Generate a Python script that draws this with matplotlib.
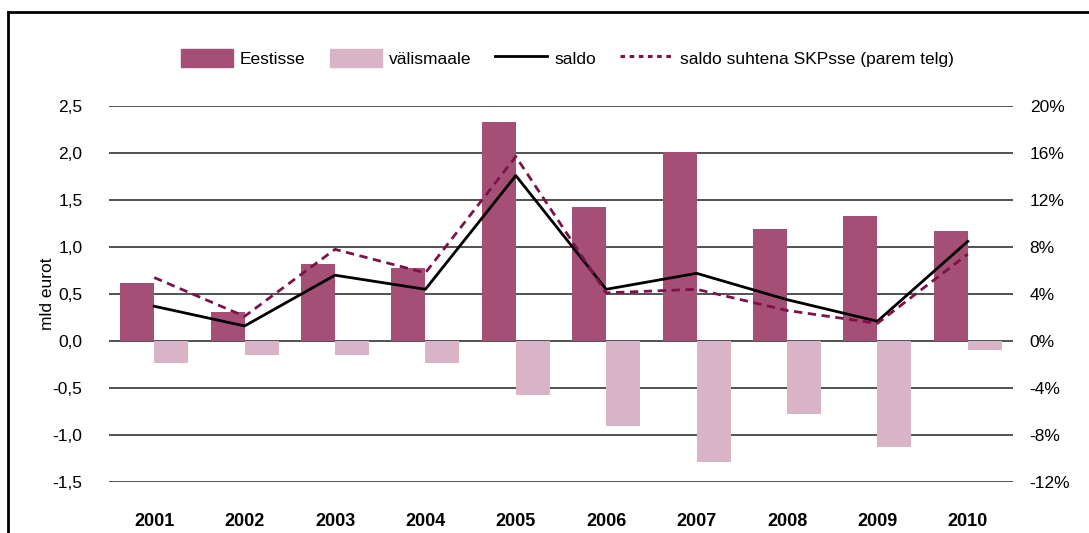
import matplotlib
matplotlib.use("Agg")
from matplotlib import pyplot as plt
from matplotlib.lines import Line2D
import numpy as np

years = ["2001", "2002", "2003", "2004", "2005", "2006", "2007", "2008", "2009", "2010"]
eestisse = [0.62, 0.31, 0.82, 0.78, 2.33, 1.43, 2.01, 1.19, 1.33, 1.17]
valismaale = [-0.23, -0.145, -0.145, -0.23, -0.57, -0.90, -1.29, -0.78, -1.13, -0.10]
saldo = [0.37, 0.16, 0.70, 0.55, 1.76, 0.55, 0.72, 0.44, 0.21, 1.06]
saldo_pct = [5.4, 2.1, 7.8, 5.8, 15.7, 4.1, 4.4, 2.6, 1.5, 7.4]

c_in = "#A54E76"
c_out = "#D9B3C6"
c_pct = "#7B1248"

plt.rcParams['font.family'] = ['Liberation Sans', 'DejaVu Sans']
fs = 12.5

fig = plt.figure(figsize=(10.89, 5.33), dpi=100)
ax = fig.add_axes([109/1089, 1-482/533, 904/1089, 376/533])
ax2 = ax.twinx()

x = np.arange(len(years))
w = 0.376

ax.set_axisbelow(True)
for v in np.arange(-1.5, 2.51, 0.5):
	ax.axhline(v, color="#222222", lw=1.1, zorder=0)

ax.bar(x - w/2, eestisse, w, color=c_in, zorder=2, label="Eestisse")
ax.bar(x + w/2, valismaale, w, color=c_out, zorder=2, label="välismaale")
ax.plot(x, saldo, color="black", lw=2, zorder=4, label="saldo")
ax2.plot(x, saldo_pct, color=c_pct, lw=2, dashes=(3, 2), zorder=4)

ax.set_xlim(-0.5, 9.5)
ax.set_ylim(-1.5, 2.5)
ax2.set_ylim(-12, 20)

ax.set_yticks(np.arange(-1.5, 2.51, 0.5))
ax.set_yticklabels([("%.1f" % v).replace(".", ",") for v in np.arange(-1.5, 2.51, 0.5)], fontsize=fs)
ax2.set_yticks(np.arange(-12, 21, 4))
ax2.set_yticklabels(["%d%%" % v for v in np.arange(-12, 21, 4)], fontsize=fs)
ax.set_xticks(x)
ax.set_xticklabels(years, fontsize=13, fontweight="bold")

ax.tick_params(axis="y", length=0, pad=19)
ax2.tick_params(axis="y", length=0, pad=12)
ax.tick_params(axis="x", length=0, pad=22)

for a in (ax, ax2):
	for s in a.spines.values():
		s.set_visible(False)

ax.set_ylabel("mld eurot", fontsize=fs, labelpad=-2)
ax2.set_zorder(ax.get_zorder() + 1)
ax2.patch.set_visible(False)

handles = [
	plt.Rectangle((0, 0), 1, 1, color=c_in),
	plt.Rectangle((0, 0), 1, 1, color=c_out),
	Line2D([0], [0], color="black", lw=2),
	Line2D([0], [0], color=c_pct, lw=2.2, dashes=(1.5, 1.5)),
]
labels = ["Eestisse", "välismaale", "saldo", "saldo suhtena SKPsse (parem telg)"]
fig.legend(handles, labels, loc="center", bbox_to_anchor=(567/1089, 1-58/533), ncol=4,
	frameon=False, fontsize=fs, handlelength=3.0, handleheight=1.2, columnspacing=1.4, handletextpad=0.4)

# outer frame (top and left edges visible)
fig.add_artist(Line2D([8/1089, 8/1089], [0, 1-12/533], color="black", lw=2, transform=fig.transFigure))
fig.add_artist(Line2D([8/1089, 1], [1-12/533, 1-12/533], color="black", lw=2, transform=fig.transFigure))

plt.savefig("out.png", dpi=100)
